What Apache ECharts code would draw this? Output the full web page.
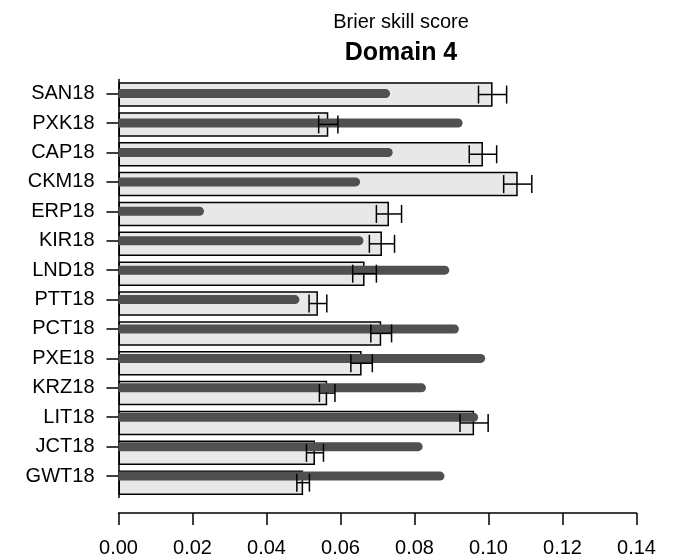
<!DOCTYPE html>
<html>
<head>
<meta charset="utf-8">
<script src="https://cdn.jsdelivr.net/npm/echarts@6/dist/echarts.min.js"></script>
<style>html,body{margin:0;padding:0;background:#fff;}#c{width:682px;height:560px;}</style>
</head>
<body>
<div id="c"></div>
<script>
const categories = ['SAN18','PXK18','CAP18','CKM18','ERP18','KIR18','LND18','PTT18','PCT18','PXE18','KRZ18','LIT18','JCT18','GWT18'];
const skillScore = [0.1011, 0.0567, 0.0985, 0.1079, 0.0731, 0.0712, 0.0665, 0.0539, 0.0710, 0.0657, 0.0564, 0.0961, 0.0531, 0.0499];
const skillError = [0.0038, 0.0026, 0.0037, 0.0038, 0.0034, 0.0034, 0.0032, 0.0024, 0.0028, 0.0029, 0.0021, 0.0038, 0.0023, 0.0017];
const otherScore = [0.0734, 0.0930, 0.0741, 0.0653, 0.0231, 0.0662, 0.0894, 0.0489, 0.0920, 0.0991, 0.0831, 0.0972, 0.0822, 0.0881];
const xTicks = [0, 0.02, 0.04, 0.06, 0.08, 0.10, 0.12, 0.14];

const FONT = 'Liberation Sans';
const errData = skillScore.map((v, i) => [i, v - skillError[i], v + skillError[i]]);

const chart = echarts.init(document.getElementById('c'), null, {renderer: 'canvas'});
chart.setOption({
  backgroundColor: '#ffffff',
  animation: false,
  title: [
    {text: 'Brier skill score', left: 396, top: 17, textAlign: 'center', textVerticalAlign: 'middle',
     textStyle: {fontFamily: FONT, fontSize: 20, fontWeight: 'normal', color: '#000'}},
    {text: 'Domain 4', left: 396, top: 48, textAlign: 'center', textVerticalAlign: 'middle',
     textStyle: {fontFamily: FONT, fontSize: 25, fontWeight: 'bold', color: '#000'}}
  ],
  grid: [
    {left: 118.5, right: 45.5, top: 78.9, height: 411.9, containLabel: false},
    {left: 118.5, right: 45.5, top: 79.6, height: 418, containLabel: false}
  ],
  xAxis: [
    {gridIndex: 0, type: 'value', min: xTicks[0], max: xTicks[xTicks.length - 1], interval: 0.02, show: false},
    {gridIndex: 1, type: 'value', min: xTicks[0], max: xTicks[xTicks.length - 1], interval: 0.02,
     position: 'bottom', offset: 15.4,
     axisLine: {show: true, onZero: false, lineStyle: {color: '#000', width: 1.5}},
     axisTick: {show: true, length: 12, lineStyle: {color: '#000', width: 1.5}},
     axisLabel: {margin: 25, fontFamily: FONT, fontSize: 20, color: '#000', formatter: v => v.toFixed(2)},
     splitLine: {show: false}}
  ],
  yAxis: [
    {gridIndex: 0, type: 'category', data: categories, inverse: true,
     axisLine: {show: false},
     axisTick: {show: true, length: 12, alignWithLabel: true, lineStyle: {color: '#000', width: 1.5}},
     axisLabel: {margin: 24, fontFamily: FONT, fontSize: 20, color: '#000'},
     splitLine: {show: false}},
    {gridIndex: 1, type: 'category', data: categories, inverse: true,
     axisLine: {show: true, lineStyle: {color: '#000', width: 1.5}},
     axisTick: {show: false}, axisLabel: {show: false}, splitLine: {show: false}}
  ],
  series: [
    {type: 'bar', xAxisIndex: 1, yAxisIndex: 1, data: skillScore, barWidth: 24.5, z: 1,
     itemStyle: {color: '#e8e8e8', borderColor: '#000', borderWidth: 1.5}},
    {type: 'bar', xAxisIndex: 0, yAxisIndex: 0, data: otherScore, barWidth: 9, z: 2,
     itemStyle: {color: '#505050', borderRadius: [0, 4.5, 4.5, 0]}},
    {type: 'custom', xAxisIndex: 1, yAxisIndex: 1, data: errData, z: 3,
     encode: {y: 0, x: [1, 2]},
     renderItem: function (params, api) {
       const cat = api.value(0);
       const lo = api.coord([api.value(1), cat]);
       const hi = api.coord([api.value(2), cat]);
       const h = 9;
       const st = {stroke: '#000', lineWidth: 1.5};
       return {type: 'group', children: [
         {type: 'line', shape: {x1: lo[0], y1: lo[1], x2: hi[0], y2: hi[1]}, style: st},
         {type: 'line', shape: {x1: lo[0], y1: lo[1] - h, x2: lo[0], y2: lo[1] + h}, style: st},
         {type: 'line', shape: {x1: hi[0], y1: hi[1] - h, x2: hi[0], y2: hi[1] + h}, style: st}
       ]};
     }}
  ]
});
</script>
</body>
</html>
